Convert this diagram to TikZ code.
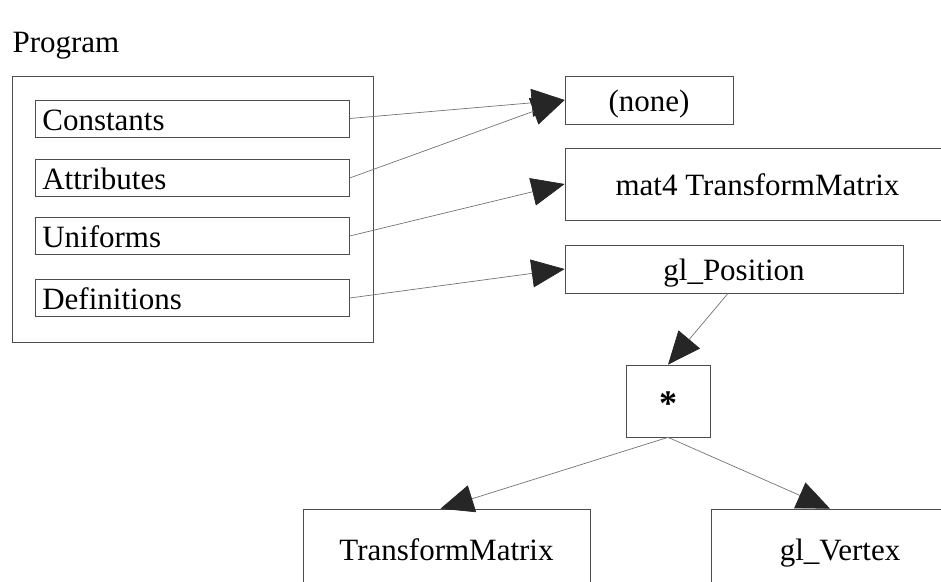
\documentclass[tikz,border=0pt]{standalone}
\usepackage{fontspec}
\setmainfont{Liberation Serif}
\usetikzlibrary{arrows.meta, positioning}
\tikzstyle{block} = [draw=black!70, rectangle, line width=0.7pt, inner sep=0pt, text height=26pt, text depth=3pt, font=\fontsize{31}{37}\selectfont]
\tikzstyle{field} = [block, text width=300pt, inner xsep=7pt, minimum height=37pt, align=left, anchor=west]
\tikzstyle{link} = [draw=black!55, line width=0.7pt, -{Triangle[length=33pt, width=28pt, color=black!85]}]

\begin{document}
\begin{tikzpicture}[x=1pt, y=-1pt]
    \clip (0,0) rectangle (941,581);
    \node [anchor=west, font=\fontsize{31}{37}\selectfont] (title) at (9,46) {Program};
    \node [block, minimum width=361pt, minimum height=266pt] (program) at (192.5,209) {};
    \node [field] (constants) at (35,118.5) {Constants};
    \node [field] (attributes) at (35,178) {Attributes};
    \node [field] (uniforms) at (35,236) {Uniforms};
    \node [field] (definitions) at (35,298) {Definitions};
    \node [block, minimum width=168pt, minimum height=48pt] (none) at (649,100) {(none)};
    \node [block, minimum width=385pt, minimum height=72pt] (mat) at (757.5,184) {mat4 TransformMatrix};
    \node [block, minimum width=338pt, minimum height=48pt] (pos) at (734,269) {gl\_Position};
    \node [block, minimum width=84pt, minimum height=72pt, text height=28pt, text depth=0pt, font=\fontsize{36}{36}\selectfont\bfseries] (mul) at (668,401) {*};
    \node [block, minimum width=287pt, minimum height=80pt] (tm) at (446.5,549) {TransformMatrix};
    \node [block, minimum width=258pt, minimum height=80pt] (vertex) at (840,549) {gl\_Vertex};
    % program to values
    \draw [link] (constants.east) -- (none.west);
    \draw [link] (attributes.east) -- (none.west);
    \draw [link] (uniforms.east) -- (mat.west);
    \draw [link] (definitions.east) -- (pos.west);
    % expression tree
    \draw [link] ([xshift=-6pt]pos.south) -- (mul.north);
    \draw [link] (mul.south) -- ([xshift=-6pt]tm.north);
    \draw [link] (mul.south) -- ([xshift=-10pt]vertex.north);
\end{tikzpicture}
\end{document}
